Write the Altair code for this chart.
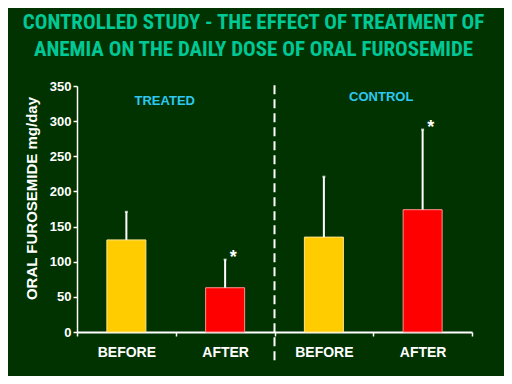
import altair as alt
import pandas as pd

categories = ["TREATED BEFORE", "TREATED AFTER", "CONTROL BEFORE", "CONTROL AFTER"]
phases = ["BEFORE", "AFTER", "BEFORE", "AFTER"]
means = [131, 63, 135, 174]
err_top = [171, 103, 221, 288]
marks = ["", "*", "", "*"]
y_ticks = [0, 50, 100, 150, 200, 250, 300, 350]

group_labels = ["TREATED", "CONTROL"]
group_anchor = ["TREATED AFTER", "CONTROL AFTER"]
group_y = [328, 334]
group_dx = [-11, 8]

divider_cat = ["CONTROL BEFORE"]
divider_top = [351]
divider_bottom = [-44]

df = pd.DataFrame({"cat": categories, "phase": phases, "mean": means,
                   "top": err_top, "mark": marks})
gdf = pd.DataFrame({"cat": group_anchor, "label": group_labels, "y": group_y, "dx": group_dx})
ddf = pd.DataFrame({"cat": divider_cat, "y": divider_top, "y2": divider_bottom})

xscale = alt.Scale(domain=categories, paddingInner=0, paddingOuter=0)
yscale = alt.Scale(domain=[0, 350], nice=False)

x_axis = alt.Axis(labelExpr="split(datum.label, ' ')[1]", labelAngle=0,
                  tickBand="extent", tickSize=4, labelPadding=9,
                  labelFont="Liberation Sans", labelFontSize=14,
                  labelFontWeight="bold", labelColor="white",
                  domainColor="white", domainWidth=2,
                  tickColor="white", tickWidth=1.5)
y_axis = alt.Axis(values=y_ticks, grid=False, tickSize=4, labelPadding=2,
                  labelOverlap=False,
                  labelFont="Liberation Sans", labelFontSize=13,
                  labelFontWeight="bold", labelColor="white",
                  domainColor="white", domainWidth=1.5,
                  tickColor="white", tickWidth=1.5,
                  titleFont="Liberation Sans", titleFontSize=15,
                  titleFontWeight="bold", titleColor="white",
                  titleX=-46, titleY=112, titleAngle=270,
                  titleAlign="center", titleBaseline="middle")
Y_TITLE = "ORAL FUROSEMIDE mg/day"


def X(field="cat:N", **kw):
    return alt.X(field, scale=xscale, sort=categories, title=None, axis=x_axis, **kw)


def Y(field):
    return alt.Y(field, scale=yscale, title=Y_TITLE, axis=y_axis)


bars = alt.Chart(df).mark_bar(size=39, strokeWidth=1).encode(
    x=X(),
    y=Y("mean:Q"),
    fill=alt.Fill("phase:N", scale=alt.Scale(domain=["BEFORE", "AFTER"],
                                             range=["#FFCC00", "#FF0000"]), legend=None),
    stroke=alt.Stroke("phase:N", scale=alt.Scale(domain=["BEFORE", "AFTER"],
                                                 range=["#ffe68a", "#ff9090"]), legend=None),
)

errs = alt.Chart(df).mark_rule(color="white", strokeWidth=2).encode(
    x=X(),
    y=Y("mean:Q"),
    y2="top:Q",
)

caps = alt.Chart(df).mark_tick(color="white", size=3, thickness=2, orient="horizontal").encode(
    x=X(),
    y=Y("top:Q"),
)

stars = alt.Chart(df).mark_text(color="white", fontSize=18, font="Liberation Sans",
                                fontWeight="bold", dx=8, dy=3, baseline="alphabetic").encode(
    x=X(),
    y=Y("top:Q"),
    text="mark:N",
)

glabels = alt.Chart(gdf).mark_text(color="#2ec8f0", fontSize=13, font="Liberation Sans",
                                   fontWeight="bold", baseline="middle").encode(
    x=X(bandPosition=0),
    y=Y("y:Q"),
    text="label:N",
    xOffset=alt.XOffset("dx:Q", scale=None),
)

divider = alt.Chart(ddf).mark_rule(color="white", strokeWidth=2, strokeDash=[9, 5]).encode(
    x=X(bandPosition=0),
    y=Y("y:Q"),
    y2="y2:Q",
)

chart = alt.layer(bars, errs, caps, stars, glabels, divider).properties(
    width=395,
    height=246,
    autosize=alt.AutoSizeParams(type="none"),
    padding={"left": 69, "top": 78, "right": 32, "bottom": 44},
    background="#003300",
    title=alt.TitleParams(
        text=["CONTROLLED STUDY - THE EFFECT OF TREATMENT OF",
              "ANEMIA ON THE DAILY DOSE OF ORAL FUROSEMIDE"],
        font="Roboto Condensed", fontSize=21, fontWeight="bold",
        color="#00c896", anchor="middle", frame="group", offset=20,
        dx=-21, lineHeight=27,
    ),
).configure_view(stroke="transparent")

chart.save("out.html", embed_options={"renderer": "svg", "actions": False})
